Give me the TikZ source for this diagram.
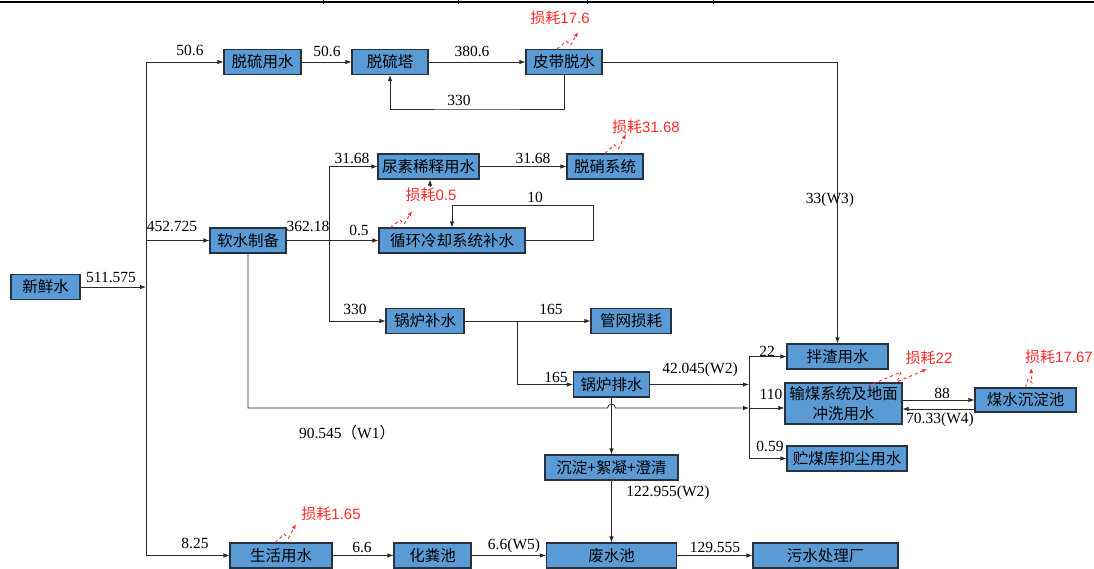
\documentclass[tikz,border=0pt]{standalone}
\usepackage{fontspec}
\setmainfont{Liberation Serif}
\newfontfamily\cjk{Noto Sans CJK SC}
\newfontfamily\lossfont{Liberation Sans}
\usetikzlibrary{calc,arrows.meta}
\definecolor{BoxBlue}{HTML}{5B9BD5}
\definecolor{BoxEdge}{HTML}{26323F}
\definecolor{LineGray}{HTML}{2A2A2A}
\definecolor{LossRed}{HTML}{FF2A2A}
\tikzset{
  wbox/.style={draw=BoxEdge,fill=BoxBlue,line width=1.1pt,
    minimum height=25pt,inner sep=1pt,align=center,
    font=\cjk\fontsize{15.5}{20}\selectfont},
  flow/.style={draw=LineGray,line width=0.8pt,-{Latex[length=6pt,width=4.5pt]}},
  pipe/.style={draw=LineGray,line width=0.8pt},
  qty/.style={font=\fontsize{15.5}{18}\selectfont,inner sep=0pt},
  losslbl/.style={text=LossRed,font=\lossfont\fontsize{15}{18}\selectfont,inner sep=0pt},
  lossline/.style={draw=LossRed,dashed,line width=0.9pt,-{Latex[length=5pt,width=4pt]}},
  lossarr/.style={lossline,
    to path={-- ($(\tikztostart)!0.45!(\tikztotarget)$) -- ++(4,4) -- (\tikztotarget)}},
}

\begin{document}
\begin{tikzpicture}[x=1pt,y=-1pt]
  \useasboundingbox (0,0) rectangle (1094,569);
  % top rule
  \draw[line width=2.8pt] (0,2) -- (1094,2);
  \foreach \tx in {323,458,587,713} \draw[line width=1pt] (\tx,0) -- (\tx,4.5);

  % boxes
  \node[wbox,minimum width=69pt]  (xxs)  at (45.5,287)   {新鲜水};
  \node[wbox,minimum width=77pt]  (tlys) at (262.5,62)   {脱硫用水};
  \node[wbox,minimum width=76pt]  (tlt)  at (390,62)     {脱硫塔};
  \node[wbox,minimum width=76pt]  (pdts) at (564,62)     {皮带脱水};
  \node[wbox,minimum width=101pt] (nsxs) at (428.5,166.5) {尿素稀释用水};
  \node[wbox,minimum width=76pt]  (txxt) at (605,166.5)  {脱硝系统};
  \node[wbox,minimum width=76pt]  (rszb) at (248,240.5)  {软水制备};
  \node[wbox,minimum width=146pt] (xhbs) at (452,240.5)  {循环冷却系统补水};
  \node[wbox,minimum width=78pt]  (glbs) at (425,321)    {锅炉补水};
  \node[wbox,minimum width=80pt]  (gwsh) at (631,321)    {管网损耗};
  \node[wbox,minimum width=76pt]  (glps) at (611.5,384.5) {锅炉排水};
  \node[wbox,minimum width=133pt] (cdnj) at (611.5,467.5) {沉淀+絮凝+澄清};
  \node[wbox,minimum width=101pt] (bzys) at (837.5,356.5) {拌渣用水};
  \node[wbox,minimum width=117pt,minimum height=41pt] (ms) at (843.5,403.5) {输煤系统及地面\\冲洗用水};
  \node[wbox,minimum width=120pt] (zmk)  at (847,458.5)  {贮煤库抑尘用水};
  \node[wbox,minimum width=101pt,minimum height=24pt] (mscd) at (1025.5,400) {煤水沉淀池};
  \node[wbox,minimum width=102pt] (shys) at (281,555.5)  {生活用水};
  \node[wbox,minimum width=77pt]  (hfc)  at (432.5,555.5) {化粪池};
  \node[wbox,minimum width=130pt] (fsc)  at (611.5,555.5) {废水池};
  \node[wbox,minimum width=145pt] (wscl) at (825.5,555.5) {污水处理厂};

  % junctions
  \coordinate (trT) at (146,62);
  \coordinate (trM) at (146,240.5);
  \coordinate (trF) at (146,287);
  \coordinate (trB) at (146,555.5);
  \coordinate (sp2T) at (329,166.5);
  \coordinate (sp2B) at (329,321);
  \coordinate (lp10) at (593,205);
  \coordinate (r330) at (476,109);
  \coordinate (blJ) at (517,321);
  \coordinate (dTop) at (749,356.5);
  \coordinate (dW2) at (749,384.5);
  \coordinate (dW1) at (749,408);
  \coordinate (dBot) at (749,458.5);
  \coordinate (nsTail) at (430,187);

  % fresh water trunk
  \draw[flow] (xxs.east) -- (trF);
  \draw[pipe] (trT) -- (trB);
  \draw[flow] (trT) -- (tlys.west);
  \draw[flow] (trM) -- (rszb.west);
  \draw[flow] (trB) -- (shys.west);

  % desulfurization
  \draw[flow] (tlys.east) -- (tlt.west);
  \draw[flow] (tlt.east) -- (pdts.west);
  \draw[flow] (pdts.south) |- (r330) -| (tlt.south);
  \draw[flow] (pdts.east) -| (bzys.north);

  % soft water
  \draw[flow] (rszb.east) -- (xhbs.west);
  \draw[pipe] (sp2T) -- (sp2B);
  \draw[flow] (sp2T) -- (nsxs.west);
  \draw[flow] (sp2B) -- (glbs.west);
  \draw[flow] (nsxs.east) -- (txxt.west);
  \draw[flow] (nsTail) -- (nsTail |- nsxs.south);
  \draw[flow] (xhbs.east) -| (lp10) -| (xhbs.north);

  % boiler
  \draw[flow] (glbs.east) -- (gwsh.west);
  \draw[flow] (blJ) |- (glps.west);
  \draw[flow] (glps.east) -- (dW2);
  \draw[flow] (glps.south) -- (cdnj.north);
  \draw[flow] (cdnj.south) -- (fsc.north);
  \draw[flow] (rszb.south) |- (607.5,408) arc[start angle=180,end angle=360,radius=4] -- (dW1);

  % coal handling
  \draw[pipe] (dTop) -- (dBot);
  \draw[flow] (dTop) -- (bzys.west);
  \draw[flow] (dW1) -- (dW1 -| ms.west);
  \draw[flow] (dBot) -- (zmk.west);
  \draw[flow] (ms.east |- mscd.west) -- (mscd.west);
  \draw[flow] ([yshift=-9pt]mscd.west) -- ([yshift=-9pt]mscd.west -| ms.east);

  % domestic
  \draw[flow] (shys.east) -- (hfc.west);
  \draw[flow] (hfc.east) -- (fsc.west);
  \draw[flow] (fsc.east) -- (wscl.west);

  % quantities
  \node[qty] (qFresh) at (111,277)   {511.575};
  \node[qty] (qTl1)   at (190,50)    {50.6};
  \node[qty] (qTl2)   at (327,51)    {50.6};
  \node[qty] (qTlt)   at (472,51)    {380.6};
  \node[qty] (qBack)  at (459,100)   {330};
  \node[qty] (qW3)    at (830,200)   {33(W3)};
  \node[qty] (qSoft)  at (172,226)   {452.725};
  \node[qty] (qSoftO) at (308,226)   {362.18};
  \node[qty] (qCool)  at (359,230)   {0.5};
  \node[qty] (qUrea)  at (352,158)   {31.68};
  \node[qty] (qDeno)  at (533,158)   {31.68};
  \node[qty] (qLoop)  at (535,197)   {10};
  \node[qty] (qBoil)  at (355,309)   {330};
  \node[qty] (qNet)   at (551,309)   {165};
  \node[qty] (qBlow)  at (556,377)   {165};
  \node[qty] (qW2a)   at (700,370)   {42.045(W2)};
  \node[qty] (qW1)    at (347,433)   {90.545{\cjk （}W1{\cjk ）}};
  \node[qty] (qSlag)  at (767,351)   {22};
  \node[qty] (qCoal)  at (771,394)   {110};
  \node[qty] (qDust)  at (770,446)   {0.59};
  \node[qty] (qToPit) at (942,393)   {88};
  \node[qty] (qW4)    at (940,420)   {70.33(W4)};
  \node[qty] (qW2b)   at (668,493)   {122.955(W2)};
  \node[qty] (qLife)  at (195,543)   {8.25};
  \node[qty] (qSep)   at (362,547)   {6.6};
  \node[qty] (qW5)    at (514,546)   {6.6(W5)};
  \node[qty] (qOut)   at (715,547)   {129.555};

  % losses
  \node[losslbl] (lPd)   at (560,18)   {{\cjk 损耗}17.6};
  \node[losslbl] (lTx)   at (646,127)  {{\cjk 损耗}31.68};
  \node[losslbl] (lXh)   at (431,195)  {{\cjk 损耗}0.5};
  \node[losslbl] (lMs)   at (929,358)  {{\cjk 损耗}22};
  \node[losslbl] (lMscd) at (1059,357) {{\cjk 损耗}17.67};
  \node[losslbl] (lSh)   at (331,514)  {{\cjk 损耗}1.65};
  \coordinate (ePd) at (578,32);
  \coordinate (eTx) at (626,134);
  \coordinate (eXh) at (412,211);
  \coordinate (eMs) at (927,369);
  \coordinate (eMscd) at (1031,368);
  \coordinate (eSh) at (296,524);
  \draw[lossarr] ([xshift=-7pt]pdts.north) to (ePd);
  \draw[lossarr] (txxt.north) to (eTx);
  \draw[lossarr] ([xshift=12pt]xhbs.north west) to (eXh);
  \draw[lossline] (868,386) -- (901,372) -- (897,382) -- (eMs);
  \draw[lossarr] (mscd.north) to (eMscd);
  \draw[lossarr] ([xshift=-6pt]shys.north) to (eSh);
\end{tikzpicture}
\end{document}
